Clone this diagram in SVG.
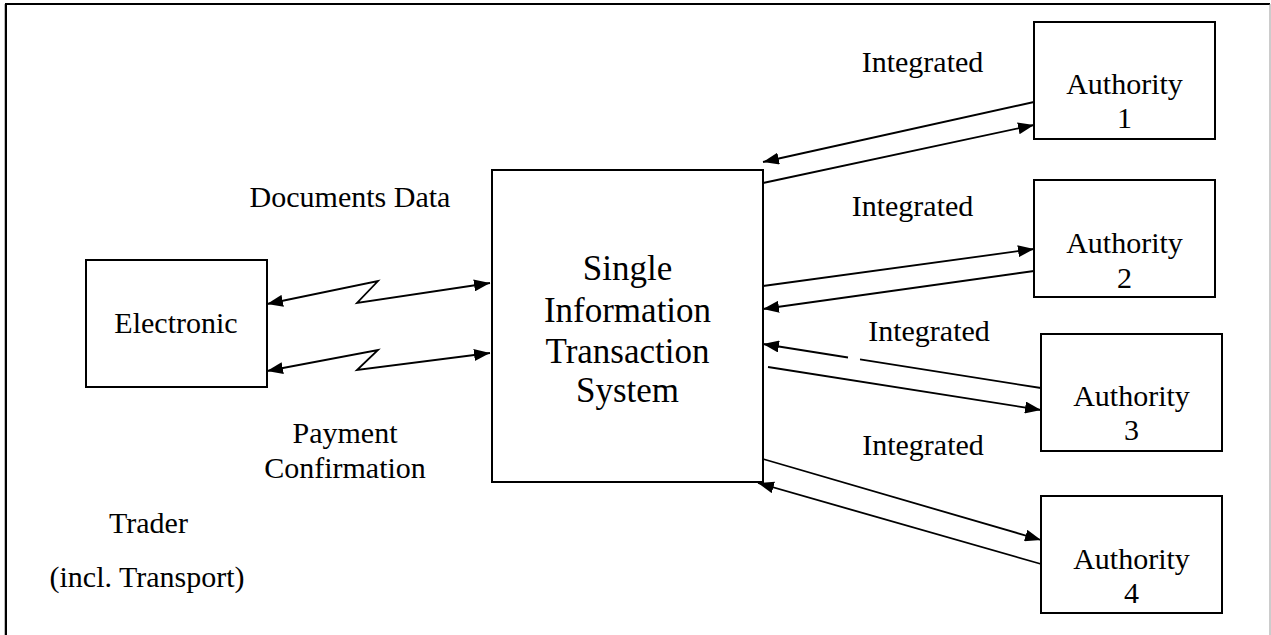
<svg xmlns="http://www.w3.org/2000/svg" width="1271" height="635" viewBox="0 0 1271 635">
  <style>
    .box { fill: #fff; stroke: #000; stroke-width: 2; }
    .lbl { font-family: "Liberation Serif", "Times New Roman", serif; font-size: 30px; fill: #000; text-anchor: middle; }
    .big { font-size: 35px; }
    .conn { fill: none; stroke: #000; stroke-width: 1.8; }
  </style>
  <defs>
    <marker id="arrow" viewBox="0 0 16 12" refX="16" refY="6" markerWidth="16" markerHeight="12" markerUnits="userSpaceOnUse" orient="auto-start-reverse">
      <path d="M0,0 L16,6 L0,12 z" fill="#000"/>
    </marker>
  </defs>

  <rect x="0" y="0" width="1271" height="635" fill="#fff"/>

  <!-- page frame -->
  <g id="frame">
    <path d="M6,636 L6,4 L1270,4" fill="none" stroke="#000" stroke-width="2"/>
    <line x1="4.5" y1="4" x2="4.5" y2="636" stroke="#bbb" stroke-width="1"/>
    <line x1="1270" y1="4" x2="1270" y2="636" stroke="#999" stroke-width="1"/>
  </g>

  <!-- connectors -->
  <g id="connectors">
    <path class="conn" d="M267,304 L378,281 L357,303 L490,283" marker-start="url(#arrow)" marker-end="url(#arrow)"/>
    <path class="conn" d="M267,371 L378,350 L357,370 L490,353" marker-start="url(#arrow)" marker-end="url(#arrow)"/>

    <path class="conn" d="M1034,102 L763,162" marker-end="url(#arrow)"/>
    <path class="conn" d="M763,183 L1034,125" marker-end="url(#arrow)"/>

    <path class="conn" d="M763,286 L1034,249" marker-end="url(#arrow)"/>
    <path class="conn" d="M1034,271 L763,309" marker-end="url(#arrow)"/>

    <path class="conn" d="M1041,388 L860,359.4 M848,357.5 L763,344" marker-end="url(#arrow)"/>
    <path class="conn" d="M768,367 L1041,410" marker-end="url(#arrow)"/>

    <path class="conn" d="M763,459 L1041,540" marker-end="url(#arrow)"/>
    <path class="conn" d="M1041,564 L758,483" marker-end="url(#arrow)"/>
  </g>

  <!-- free labels -->
  <g id="labels">
    <text class="lbl" x="350" y="207">Documents Data</text>
    <text class="lbl" x="345" y="443">Payment</text>
    <text class="lbl" x="345" y="478">Confirmation</text>
    <text class="lbl" x="148.5" y="533">Trader</text>
    <text class="lbl" x="147" y="587">(incl. Transport)</text>
    <text class="lbl" x="922.5" y="72">Integrated</text>
    <text class="lbl" x="912.5" y="216">Integrated</text>
    <text class="lbl" x="929" y="341">Integrated</text>
    <text class="lbl" x="923" y="455">Integrated</text>
  </g>

  <g id="electronic">
    <rect class="box" x="86" y="260" width="181" height="127"/>
    <text class="lbl" x="176" y="333">Electronic</text>
  </g>

  <g id="sits">
    <rect class="box" x="492" y="170" width="271" height="312"/>
    <text class="lbl big" x="627.5" y="280">Single</text>
    <text class="lbl big" x="627.5" y="321.5">Information</text>
    <text class="lbl big" x="627.5" y="363">Transaction</text>
    <text class="lbl big" x="627.5" y="401.5">System</text>
  </g>

  <g id="authority1">
    <rect class="box" x="1034" y="22" width="181" height="117"/>
    <text class="lbl" x="1124.5" y="94">Authority</text>
    <text class="lbl" x="1124.5" y="128">1</text>
  </g>

  <g id="authority2">
    <rect class="box" x="1034" y="180" width="181" height="117"/>
    <text class="lbl" x="1124.5" y="253">Authority</text>
    <text class="lbl" x="1124.5" y="288">2</text>
  </g>

  <g id="authority3">
    <rect class="box" x="1041" y="334" width="181" height="117"/>
    <text class="lbl" x="1131.5" y="406">Authority</text>
    <text class="lbl" x="1131.5" y="440">3</text>
  </g>

  <g id="authority4">
    <rect class="box" x="1041" y="496" width="181" height="117"/>
    <text class="lbl" x="1131.5" y="569">Authority</text>
    <text class="lbl" x="1131.5" y="603">4</text>
  </g>
</svg>
